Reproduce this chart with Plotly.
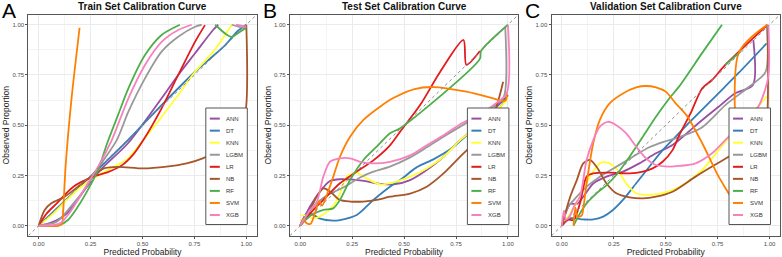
import plotly.graph_objects as go

# ---------------- data ----------------
MODELS = ["ANN", "DT", "KNN", "LGBM", "LR", "NB", "RF", "SVM", "XGB"]
COLORS = ["#984EA3", "#377EB8", "#FFFF33", "#999999", "#E41A1C",
          "#A65628", "#4DAF4A", "#FF7F00", "#F781BF"]
PANEL_TITLES = ["Train Set Calibration Curve", "Test Set Calibration Curve",
                "Validation Set Calibration Curve"]
PANEL_LETTERS = ["A", "B", "C"]
TICK_VALUES = [0, 0.25, 0.5, 0.75, 1.0]
TICK_LABELS = ["0.00", "0.25", "0.50", "0.75", "1.00"]
X_TITLE = "Predicted Probability"
Y_TITLE = "Observed Proportion"

# Train set (panel A): (predicted, observed) points, None = gap
train_ann = [(0, 0), (0.06, 0.015), (0.135, 0.06), (0.23, 0.19), (0.3, 0.28), (0.43, 0.41),
             (0.592, 0.634), (0.672, 0.75), (0.753, 0.858), (0.841, 0.975), (0.865, 1.0)]
train_dt = [(0, 0), (0.25, 0.245), (0.43, 0.426), (0.592, 0.6), (0.753, 0.766),
            (0.817, 0.824), (0.9, 0.9), (0.96, 0.97), (1.0, 1.0)]
train_knn = [(0, 0), (0.07, 0.06), (0.135, 0.128), (0.2, 0.19), (0.295, 0.255), (0.376, 0.3),
             (0.43, 0.335), (0.504, 0.426), (0.672, 0.65), (0.753, 0.766), (0.841, 0.866), (0.93, 1.0)]
train_lgbm = [(0, 0), (0.087, 0.02), (0.167, 0.11), (0.23, 0.194), (0.295, 0.3), (0.376, 0.426),
              (0.432, 0.567), (0.512, 0.733), (0.592, 0.866), (0.672, 0.94), (0.753, 0.99),
              (0.785, 1.0), None, (0.93, 1.0), (1.0, 0.98)]
train_lr = [(0, 0), (0.039, 0.061), (0.087, 0.111), (0.167, 0.194), (0.263, 0.244), (0.33, 0.265),
            (0.4, 0.3), (0.456, 0.355), (0.504, 0.426), (0.592, 0.584), (0.672, 0.75),
            (0.753, 0.915), (0.801, 0.998)]
train_nb = [(0, 0), (0.029, 0.078), (0.061, 0.111), (0.125, 0.144), (0.189, 0.194), (0.253, 0.244),
            (0.318, 0.286), (0.382, 0.293), (0.504, 0.285), (0.616, 0.294), (0.713, 0.31),
            (0.79, 0.335), (0.87, 0.376), (0.95, 0.45), (0.995, 0.56), (1.0, 1.0)]
train_rf = [(0, 0), (0.095, 0), (0.141, 0.028), (0.189, 0.095), (0.237, 0.178), (0.286, 0.277),
            (0.33, 0.41), (0.382, 0.55), (0.432, 0.683), (0.512, 0.849), (0.592, 0.949),
            (0.68, 1.0), None, (0.85, 1.0), (0.9, 0.955), (0.93, 0.94), (0.97, 0.965), (1.0, 0.985)]
train_svm = [(0, 0), (0.095, 0.0), (0.112, 0.01), (0.117, 0.06), (0.13, 0.3), (0.157, 0.62),
             (0.197, 0.985)]
train_xgb = [(0, 0), (0.1, 0.01), (0.141, 0.053), (0.189, 0.128), (0.237, 0.211), (0.286, 0.293),
             (0.352, 0.426), (0.432, 0.634), (0.512, 0.8), (0.592, 0.915), (0.672, 0.974),
             (0.737, 1.0), None, (0.95, 1.0), (1.0, 0.99)]

# Test set (panel B)
test_ann = [(0, 0), (0.047, 0.095), (0.095, 0.17), (0.143, 0.222), (0.191, 0.231), (0.288, 0.225),
            (0.384, 0.208), (0.449, 0.205), (0.529, 0.227), (0.609, 0.277), (0.69, 0.343),
            (0.77, 0.426), (0.85, 0.493), (0.93, 0.575), (0.995, 0.642)]
test_dt = [(0, 0), (0.031, 0.062), (0.06, 0.055), (0.095, 0.035), (0.159, 0.025), (0.191, 0.028),
           (0.272, 0.053), (0.352, 0.128), (0.432, 0.194), (0.481, 0.227), (0.56, 0.29),
           (0.641, 0.33), (0.722, 0.38), (0.802, 0.45), (0.883, 0.52), (0.963, 0.59), (1.0, 0.65)]
test_knn = [(0, 0.05), (0.03, 0.05), (0.063, 0.036), (0.111, 0.055), (0.16, 0.1), (0.191, 0.161),
            (0.224, 0.244), (0.272, 0.262), (0.32, 0.235), (0.384, 0.205), (0.449, 0.215),
            (0.529, 0.244), (0.609, 0.285), (0.69, 0.343), (0.77, 0.426), (0.85, 0.49),
            (0.93, 0.56), (0.99, 0.62), (1.0, 0.64)]
test_lgbm = [(0, 0), (0.063, 0.095), (0.127, 0.15), (0.207, 0.19), (0.288, 0.24), (0.352, 0.269),
             (0.432, 0.294), (0.529, 0.34), (0.609, 0.39), (0.69, 0.443), (0.77, 0.493),
             (0.85, 0.542), (0.93, 0.592), (0.98, 0.64), (0.987, 0.99)]
test_lr = [(0, 0), (0.063, 0.078), (0.111, 0.128), (0.191, 0.211), (0.272, 0.269), (0.352, 0.325),
           (0.432, 0.4), (0.481, 0.468), (0.577, 0.6), (0.674, 0.766), (0.786, 0.924),
           (0.8, 0.8), (0.865, 0.869)]
test_nb = [(0, 0), (0.047, 0.078), (0.079, 0.144), (0.111, 0.186), (0.143, 0.17), (0.191, 0.128),
           (0.24, 0.12), (0.304, 0.12), (0.368, 0.128), (0.432, 0.144), (0.529, 0.16),
           (0.609, 0.194), (0.69, 0.26), (0.77, 0.343), (0.85, 0.426), (0.93, 0.55), (0.977, 0.716)]
test_rf = [(0, 0), (0.05, 0.05), (0.111, 0.078), (0.159, 0.086), (0.191, 0.128), (0.24, 0.227),
           (0.304, 0.327), (0.368, 0.393), (0.432, 0.46), (0.481, 0.485), (0.865, 0.83),
           (0.87, 0.868), (1.0, 1.0)]
test_svm = [(0, 0), (0.015, 0.035), (0.03, 0.012), (0.05, 0.01), (0.07, 0.06), (0.09, 0.12),
            (0.105, 0.1), (0.127, 0.15), (0.159, 0.244), (0.191, 0.343), (0.24, 0.443),
            (0.304, 0.526), (0.384, 0.592), (0.448, 0.635), (0.55, 0.68), (0.641, 0.69),
            (0.8, 0.667), (0.929, 0.634), (0.977, 0.62), (0.99, 0.625), (0.995, 0.66)]
test_xgb = [(0, 0), (0.047, 0.078), (0.08, 0.12), (0.111, 0.244), (0.143, 0.318), (0.191, 0.335),
            (0.24, 0.335), (0.288, 0.318), (0.352, 0.31), (0.432, 0.318), (0.529, 0.35),
            (0.609, 0.4), (0.69, 0.45), (0.77, 0.505), (0.85, 0.545), (0.93, 0.6),
            (0.994, 0.66), (1.0, 1.0)]

# Validation set (panel C)
val_ann = [(0, 0), (0.016, 0.058), (0.04, 0.108), (0.072, 0.108), (0.103, 0.144), (0.151, 0.21),
           (0.215, 0.244), (0.294, 0.269), (0.373, 0.31), (0.453, 0.36), (0.533, 0.401),
           (0.596, 0.455), (0.676, 0.526), (0.755, 0.592), (0.835, 0.659), (0.92, 0.7), (0.922, 0.924)]
val_dt = [(0, 0), (0.04, 0.036), (0.103, 0.031), (0.151, 0.031), (0.199, 0.045), (0.246, 0.078),
          (0.294, 0.128), (0.358, 0.211), (0.421, 0.293), (0.485, 0.376), (0.564, 0.46),
          (0.62, 0.52), (0.755, 0.66), (0.851, 0.76), (0.986, 0.907)]
val_knn = [(0, 0), (0.04, 0.061), (0.087, 0.144), (0.135, 0.244), (0.183, 0.31), (0.215, 0.315),
           (0.262, 0.285), (0.31, 0.21), (0.358, 0.161), (0.405, 0.153), (0.469, 0.158),
           (0.533, 0.177), (0.596, 0.211), (0.676, 0.277), (0.755, 0.376), (0.835, 0.476),
           (0.914, 0.559), (0.986, 0.642)]
val_lgbm = [(0, 0), (0.032, 0.095), (0.072, 0.144), (0.119, 0.194), (0.183, 0.244), (0.262, 0.293),
            (0.342, 0.343), (0.421, 0.39), (0.5, 0.42), (0.564, 0.44), (0.676, 0.49),
            (0.787, 0.6), (0.9, 0.69), (0.981, 0.766), (0.985, 1.0)]
val_lr = [(0, 0), (0.03, 0.03), (0.056, 0.028), (0.087, 0.11), (0.119, 0.244), (0.151, 0.26),
          (0.23, 0.264), (0.326, 0.26), (0.39, 0.269), (0.437, 0.285), (0.485, 0.318),
          (0.533, 0.376), (0.565, 0.45), (0.62, 0.56), (0.676, 0.684), (0.723, 0.725),
          (0.787, 0.8), (0.99, 1.0)]
val_nb = [(0, 0), (0.04, 0.144), (0.072, 0.227), (0.103, 0.31), (0.135, 0.327), (0.167, 0.293),
          (0.215, 0.21), (0.262, 0.161), (0.326, 0.141), (0.39, 0.136), (0.453, 0.144),
          (0.533, 0.169), (0.644, 0.244), (0.723, 0.294), (0.803, 0.343), (0.882, 0.393),
          (0.978, 0.459), (0.99, 0.56), (0.992, 0.99)]
val_rf = [(0.056, 0), (0.087, 0.061), (0.119, 0.111), (0.167, 0.161), (0.215, 0.202), (0.262, 0.252),
          (0.326, 0.343), (0.39, 0.443), (0.453, 0.542), (0.517, 0.633), (0.564, 0.692),
          (0.676, 0.86), (0.771, 1.0), None, (0.787, 0.8), (0.86, 0.866)]
val_svm = [(0.056, 0), (0.065, 0.09), (0.075, 0.045), (0.095, 0.05), (0.105, 0.1), (0.119, 0.21),
           (0.151, 0.41), (0.183, 0.527), (0.23, 0.609), (0.294, 0.658), (0.358, 0.688),
           (0.405, 0.695), (0.453, 0.688), (0.5, 0.667), (0.548, 0.609), (0.6, 0.55),
           (0.676, 0.41), (0.755, 0.244), (0.803, 0.161), (0.84, 0.09), (0.851, 0.07),
           (0.851, 0.858), (0.99, 1.0)]
val_xgb = [(0, 0), (0.01, 0.075), (0.02, 0.03), (0.04, 0.05), (0.06, 0.1), (0.087, 0.144),
           (0.119, 0.327), (0.151, 0.426), (0.183, 0.493), (0.223, 0.517), (0.262, 0.5),
           (0.31, 0.459), (0.358, 0.393), (0.405, 0.335), (0.453, 0.302), (0.517, 0.294),
           (0.564, 0.297), (0.644, 0.31), (0.723, 0.36), (0.787, 0.426), (0.914, 0.559),
           (0.946, 0.592), (0.994, 0.741), (0.994, 1.0)]

PANELS = [
    [train_ann, train_dt, train_knn, train_lgbm, train_lr, train_nb, train_rf, train_svm, train_xgb],
    [test_ann, test_dt, test_knn, test_lgbm, test_lr, test_nb, test_rf, test_svm, test_xgb],
    [val_ann, val_dt, val_knn, val_lgbm, val_lr, val_nb, val_rf, val_svm, val_xgb],
]

# ---------------- layout geometry (pixels of the 782x257 canvas) ----------------
W, H = 782, 257
PLOT_LEFT = [28.3, 289.9, 551.5]
PLOT_W = 228.4
PLOT_TOP, PLOT_BOTTOM = 14.7, 235.7
XR = [-0.05, 1.05]


def px(x):
    return x / W


def py(y):
    return 1 - y / H


def split(points):
    xs, ys = [], []
    for p in points:
        if p is None:
            xs.append(None)
            ys.append(None)
        else:
            xs.append(p[0])
            ys.append(p[1])
    return xs, ys


fig = go.Figure()
shapes, annotations = [], []
FONT = "Liberation Sans, Arial, sans-serif"

for i, panel in enumerate(PANELS):
    ax = "" if i == 0 else str(i + 1)
    xa, ya = "x" + ax, "y" + ax
    # diagonal reference line
    for m, pts in enumerate(panel):
        xs, ys = split(pts)
        fig.add_trace(go.Scatter(
            x=xs, y=ys, mode="lines", name=MODELS[m], showlegend=False,
            line=dict(color=COLORS[m], width=1.8, shape="spline", smoothing=0.8),
            connectgaps=False, xaxis=xa, yaxis=ya, hoverinfo="skip"))
    fig.add_trace(go.Scatter(
        x=XR, y=XR, mode="lines", showlegend=False, xaxis=xa, yaxis=ya,
        line=dict(color="#8C8C8C", width=1, dash="3px,3px"), hoverinfo="skip"))

    left = PLOT_LEFT[i]
    dom = [px(left), px(left + PLOT_W)]
    axis_common = dict(
        range=XR, tickvals=TICK_VALUES, ticktext=TICK_LABELS,
        showgrid=True, gridcolor="#EBEBEB", gridwidth=0.8,
        minor=dict(showgrid=True, gridcolor="#F4F4F4", gridwidth=0.5, dtick=0.125, tick0=0.125),
        zeroline=False, showline=True, mirror=True, linecolor="#555555", linewidth=1,
        ticks="outside", ticklen=2, tickwidth=0.8, tickcolor="#555555",
        tickfont=dict(family=FONT, size=6, color="#4D4D4D"),
        automargin=False, fixedrange=True)
    fig.update_layout(**{
        "xaxis" + ax: dict(domain=dom, anchor=ya,
                           title=dict(text=X_TITLE, font=dict(family=FONT, size=8.5, color="#222222"),
                                      standoff=3),
                           **axis_common),
        "yaxis" + ax: dict(domain=[py(PLOT_BOTTOM), py(PLOT_TOP)], anchor=xa,
                           title=dict(text=Y_TITLE, font=dict(family=FONT, size=8.5, color="#222222"),
                                      standoff=1),
                           **axis_common),
    })

    # panel title and letter
    annotations.append(dict(
        text="<b>" + PANEL_TITLES[i] + "</b>", x=px(left + PLOT_W / 2), y=py(6.5),
        xref="paper", yref="paper", showarrow=False, xanchor="center", yanchor="middle",
        font=dict(family=FONT, size=10, color="#111111")))
    annotations.append(dict(
        text=PANEL_LETTERS[i], x=px(left - 28.5), y=py(10.5),
        xref="paper", yref="paper", showarrow=False, xanchor="left", yanchor="middle",
        font=dict(family=FONT, size=21, color="#000000")))

    # legend box
    L = left + 177.5
    R = L + 41.5
    T, B = 108.0, 224.5
    shapes.append(dict(type="rect", xref="paper", yref="paper",
                       x0=px(L), x1=px(R), y0=py(B), y1=py(T),
                       fillcolor="white", line=dict(color="#555555", width=1), layer="above"))
    for m, name in enumerate(MODELS):
        yy = 118.6 + m * 12.05
        shapes.append(dict(type="line", xref="paper", yref="paper",
                           x0=px(L + 4), x1=px(L + 14), y0=py(yy), y1=py(yy),
                           line=dict(color=COLORS[m], width=2), layer="above"))
        annotations.append(dict(
            text=name, x=px(L + 18.5), y=py(yy), xref="paper", yref="paper",
            showarrow=False, xanchor="left", yanchor="middle",
            font=dict(family=FONT, size=6, color="#333333")))

fig.update_layout(
    width=W, height=H, margin=dict(l=0, r=0, t=0, b=0),
    paper_bgcolor="white", plot_bgcolor="white",
    showlegend=False, shapes=shapes, annotations=annotations,
)

fig.write_html("out.html")
